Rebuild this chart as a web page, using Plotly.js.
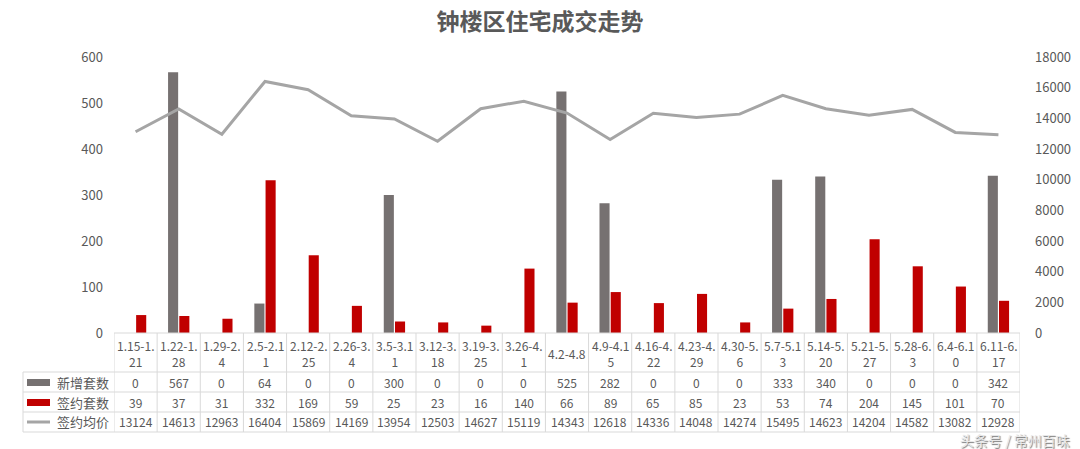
<!DOCTYPE html>
<html>
<head>
<meta charset="utf-8">
<script src="https://cdn.plot.ly/plotly-3.0.1.min.js"></script>
<style>html,body{margin:0;padding:0;background:#fff;}#chart{width:1080px;height:449px;}</style>
</head>
<body>
<div id="chart"></div>
<script>
var categories = ["1.15-1.21","1.22-1.28","1.29-2.4","2.5-2.11","2.12-2.25","2.26-3.4","3.5-3.11","3.12-3.18","3.19-3.25","3.26-4.1","4.2-4.8","4.9-4.15","4.16-4.22","4.23-4.29","4.30-5.6","5.7-5.13","5.14-5.20","5.21-5.27","5.28-6.3","6.4-6.10","6.11-6.17"];
var categoryLabels = ["1.15-1.<br>21","1.22-1.<br>28","1.29-2.<br>4","2.5-2.1<br>1","2.12-2.<br>25","2.26-3.<br>4","3.5-3.1<br>1","3.12-3.<br>18","3.19-3.<br>25","3.26-4.<br>1","4.2-4.8","4.9-4.1<br>5","4.16-4.<br>22","4.23-4.<br>29","4.30-5.<br>6","5.7-5.1<br>3","5.14-5.<br>20","5.21-5.<br>27","5.28-6.<br>3","6.4-6.1<br>0","6.11-6.<br>17"];
var newUnits = [0,567,0,64,0,0,300,0,0,0,525,282,0,0,0,333,340,0,0,0,342];
var signedUnits = [39,37,31,332,169,59,25,23,16,140,66,89,65,85,23,53,74,204,145,101,70];
var avgPrice = [13124,14613,12963,16404,15869,14169,13954,12503,14627,15119,14343,12618,14336,14048,14274,15495,14623,14204,14582,13082,12928];
var seriesNames = ["新增套数","签约套数","签约均价"];
var leftTicks = [0,100,200,300,400,500,600];
var rightTicks = [0,2000,4000,6000,8000,10000,12000,14000,16000,18000];

var GREY = "#767171", RED = "#C00000", LINE = "#A5A5A5", TXT = "#595959", GRID = "#D9D9D9";
var FONT = "Noto Sans CJK SC, Noto Sans, sans-serif";

var traces = [
  {type:"bar", x:categories, y:newUnits, name:seriesNames[0], marker:{color:GREY}, yaxis:"y", hoverinfo:"y"},
  {type:"bar", x:categories, y:signedUnits, name:seriesNames[1], marker:{color:RED}, yaxis:"y", hoverinfo:"y"},
  {type:"scatter", mode:"lines", x:categories, y:avgPrice, name:seriesNames[2], line:{color:LINE, width:3}, yaxis:"y2"}
];

// table geometry (pixels -> paper)
var plotTop = 57, plotBottom = 333, plotH = plotBottom - plotTop;
var plotLeft = 114, plotRight = 1020, plotW = plotRight - plotLeft;
function py(p){ return (plotBottom - p) / plotH; }
function px(p){ return (p - plotLeft) / plotW; }
var rowLines = [372, 392, 412, 432];
var tableLeft = 23;
var n = categories.length;

var shapes = [];
shapes.push({type:"line", xref:"paper", yref:"paper", x0:0, x1:1, y0:py(333), y1:py(333), line:{color:GRID, width:1}});
rowLines.forEach(function(r){
  shapes.push({type:"line", xref:"paper", yref:"paper", x0:px(tableLeft), x1:1, y0:py(r), y1:py(r), line:{color:GRID, width:1}});
});
shapes.push({type:"line", xref:"paper", yref:"paper", x0:px(tableLeft), x1:px(tableLeft), y0:py(372), y1:py(432), line:{color:GRID, width:1}});
for (var i = 0; i <= n; i++) {
  shapes.push({type:"line", xref:"x", yref:"paper", x0:i-0.5, x1:i-0.5, y0:py(333), y1:py(432), line:{color:GRID, width:1}});
}
shapes.push({type:"rect", xref:"paper", yref:"paper", x0:px(27), x1:px(50), y0:py(386), y1:py(379), fillcolor:GREY, line:{width:0}});
shapes.push({type:"rect", xref:"paper", yref:"paper", x0:px(27), x1:px(50), y0:py(406), y1:py(399), fillcolor:RED, line:{width:0}});
shapes.push({type:"line", xref:"paper", yref:"paper", x0:px(27), x1:px(50), y0:py(422), y1:py(422), line:{color:LINE, width:3}});

var ann = [];
var rowCenters = [382, 402, 422];
var rowData = [newUnits, signedUnits, avgPrice];
for (var i = 0; i < n; i++) {
  ann.push({xref:"x", yref:"paper", x:categories[i], y:py(353), text:categoryLabels[i], showarrow:false,
    font:{family:FONT, size:12, color:TXT}, xanchor:"center", yanchor:"middle"});
  for (var r = 0; r < 3; r++) {
    ann.push({xref:"x", yref:"paper", x:categories[i], y:py(rowCenters[r]), text:String(rowData[r][i]), showarrow:false,
      font:{family:FONT, size:12, color:TXT}, xanchor:"center", yanchor:"middle"});
  }
}
for (var r = 0; r < 3; r++) {
  ann.push({xref:"paper", yref:"paper", x:px(111), y:py(rowCenters[r]), text:seriesNames[r], showarrow:false,
    font:{family:FONT, size:13, color:TXT}, xanchor:"right", yanchor:"middle"});
}
ann.push({xref:"paper", yref:"paper", x:px(1072), y:py(440), text:"头条号 / 常州百味", showarrow:false,
  font:{family:FONT, size:14, color:"#e8e8e8", shadow:"1px 1px 1px #777"}, xanchor:"right", yanchor:"middle"});

var layout = {
  width:1080, height:449,
  margin:{l:plotLeft, r:1080-plotRight, t:plotTop, b:449-plotBottom, pad:0},
  paper_bgcolor:"#fff", plot_bgcolor:"#fff",
  title:{text:"<b>钟楼区住宅成交走势</b>", x:0.5, xanchor:"center", y:1-22/449, yanchor:"middle",
    font:{family:FONT, size:23, color:TXT}},
  showlegend:false,
  barmode:"group", bargap:0.48, bargroupgap:0.1,
  xaxis:{type:"category", showticklabels:false, showgrid:false, zeroline:false, showline:false, ticks:"", range:[-0.5, n-0.5], fixedrange:true},
  yaxis:{range:[0,600], tickvals:leftTicks, showgrid:false, zeroline:false, showline:false, ticks:"",
    tickfont:{family:FONT, size:13, color:TXT}, ticklabelstandoff:10},
  yaxis2:{range:[0,18000], tickvals:rightTicks, tickformat:"d", overlaying:"y", side:"right", showgrid:false, zeroline:false, showline:false, ticks:"",
    tickfont:{family:FONT, size:13, color:TXT}, ticklabelstandoff:14},
  shapes:shapes,
  annotations:ann
};
Plotly.newPlot("chart", traces, layout, {displayModeBar:false, staticPlot:true});
</script>
</body>
</html>
